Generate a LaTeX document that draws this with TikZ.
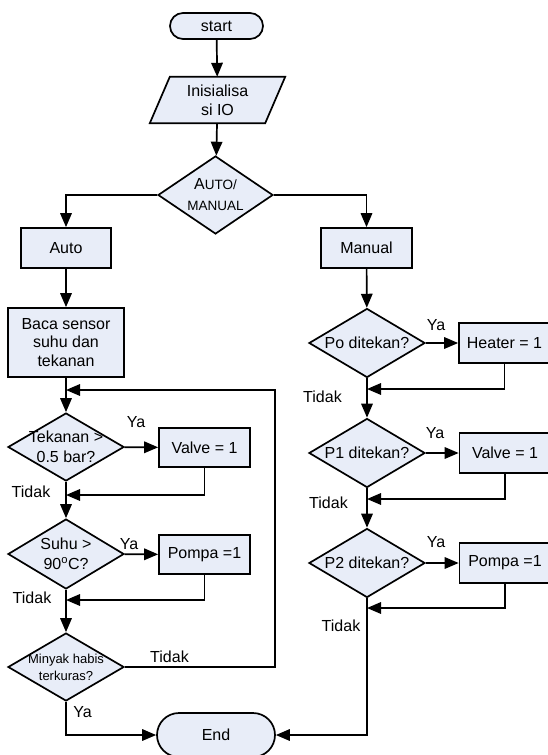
\documentclass[tikz,border=0pt]{standalone}
\usepackage{fontspec}
\setmainfont{Liberation Sans}
\usetikzlibrary{shapes.geometric,shapes.misc,arrows.meta,backgrounds}
\definecolor{boxfill}{RGB}{232,237,248}
\newcommand{\mainfs}{\fontsize{16}{18.7}\selectfont}
\newcommand{\dfs}{\fontsize{16}{20}\selectfont}
\newcommand{\smallfs}{\fontsize{13}{17}\selectfont}
\newcommand{\capsfs}{\fontsize{13.5}{15}\selectfont}
\tikzset{
  base/.style={draw, line width=1.7pt, fill=boxfill, font=\mainfs, align=center, inner sep=0pt},
  proc/.style={base, rectangle, minimum width=91pt, minimum height=40pt},
  dec/.style={base, diamond, minimum width=116pt, minimum height=68pt},
  term/.style={base, rounded rectangle},
  dtext/.style={font=\dfs, align=center, inner sep=0pt},
  conn/.style={line width=1.7pt, -{Triangle[length=14pt,width=11.5pt]}},
  lbl/.style={font=\mainfs, inner sep=0pt, anchor=base},
}
\begin{document}
\begin{tikzpicture}[x=1pt,y=-1pt]
\useasboundingbox (0,0) rectangle (547,755);

% centre column
\node[term, minimum width=93pt, minimum height=26pt] (start) at (216.5,26) {start};
\node[font=\mainfs, align=center, inner sep=0pt, minimum width=115pt, minimum height=46pt] (init) at (217.5,100) {Inisialisa\\si IO};
\begin{scope}[on background layer]
  \draw[line width=1.7pt, fill=boxfill] ([xshift=-10pt]init.south west) -- ([xshift=10pt]init.north west) -- ([xshift=10pt]init.north east) -- ([xshift=-10pt]init.south east) -- cycle;
\end{scope}
\node[dec, minimum width=115pt, minimum height=78pt,
  label={[dtext, font=\fontsize{16}{21}\selectfont]center:{A{\capsfs UTO/}\\{\capsfs MANUAL}}}] (mode) at (215.5,195) {};
\node[term, minimum width=118pt, minimum height=44pt] (end) at (216,735) {End};

% left column
\node[proc, minimum width=90pt] (auto) at (66,248) {Auto};
\node[proc, minimum width=116pt, minimum height=69pt] (baca) at (66,342.5) {Baca sensor\\suhu dan\\tekanan};
\node[dec, label={[dtext]center:{Tekanan >\\0.5 bar?}}] (tek) at (66,447) {};
\node[proc, minimum height=39pt] (valvea) at (204.5,447.5) {Valve = 1};
\node[dec, minimum height=70pt, label={[dtext]center:{Suhu >\\90\textsuperscript{o}C?}}] (suhu) at (66,554) {};
\node[proc, minimum height=39pt] (pompaa) at (204.5,554.5) {Pompa =1};
\node[dec, label={[dtext, font=\smallfs]center:{Minyak habis\\terkuras?}}] (minyak) at (66,667) {};

% right column
\node[proc] (manual) at (366.5,248) {Manual};
\node[dec, minimum height=69pt, label={[dtext]center:{Po ditekan?}}] (po) at (367,343) {};
\node[proc] (heater) at (504.5,343) {Heater = 1};
\node[dec, minimum height=69pt, label={[dtext]center:{P1 ditekan?}}] (pa) at (367,453) {};
\node[proc] (valveb) at (505,453) {Valve = 1};
\node[dec, minimum height=69pt, label={[dtext]center:{P2 ditekan?}}] (pb) at (367,563) {};
\node[proc] (pompab) at (505,563) {Pompa =1};

% junction points
\coordinate (j0) at (66,390);
\coordinate (j1) at (66,495);
\coordinate (j2) at (66,600);
\coordinate (lr) at (275,390);
\coordinate (j3) at (367,389);
\coordinate (j4) at (367,499);
\coordinate (j5) at (367,608);

% connectors centre
\draw[conn] (start) -- (init);
\draw[conn] (init) -- (mode);
\draw[conn] (mode.west) -| (auto.north);
\draw[conn] (mode.east) -| (manual.north);

% left connectors
\draw[conn] (auto) -- (baca);
\draw[conn] (baca) -- (tek);
\draw[conn] (tek) -- (valvea);
\draw[conn] (valvea.south) |- (j1);
\draw[conn] (tek) -- (suhu);
\draw[conn] (suhu) -- (pompaa);
\draw[conn] (pompaa.south) |- (j2);
\draw[conn] (suhu) -- (minyak);
\draw[conn] (minyak.east) -| (lr) -- (j0);
\draw[conn] (minyak.south) |- (end.west);

% right connectors
\draw[conn] (manual) -- (po);
\draw[conn] (po) -- (heater);
\draw[conn] (heater.south) |- (j3);
\draw[conn] (po) -- (pa);
\draw[conn] (pa) -- (valveb);
\draw[conn] (valveb.south) |- (j4);
\draw[conn] (pa) -- (pb);
\draw[conn] (pb) -- (pompab);
\draw[conn] (pompab.south) |- (j5);
\draw[conn] (pb.south) |- (end.east);

% labels
\node[lbl] (ya1) at (136,427) {Ya};
\node[lbl] (td1) at (31,497) {Tidak};
\node[lbl] (ya2) at (129,549) {Ya};
\node[lbl] (td2) at (32,603) {Tidak};
\node[lbl] (td3) at (169.5,662) {Tidak};
\node[lbl] (ya3) at (82.5,717) {Ya};
\node[lbl] (ya4) at (436,330) {Ya};
\node[lbl] (td4) at (322.5,402) {Tidak};
\node[lbl] (ya5) at (435,438) {Ya};
\node[lbl] (td5) at (328.5,508) {Tidak};
\node[lbl] (ya6) at (436,547) {Ya};
\node[lbl] (td6) at (341,631) {Tidak};
\end{tikzpicture}
\end{document}
